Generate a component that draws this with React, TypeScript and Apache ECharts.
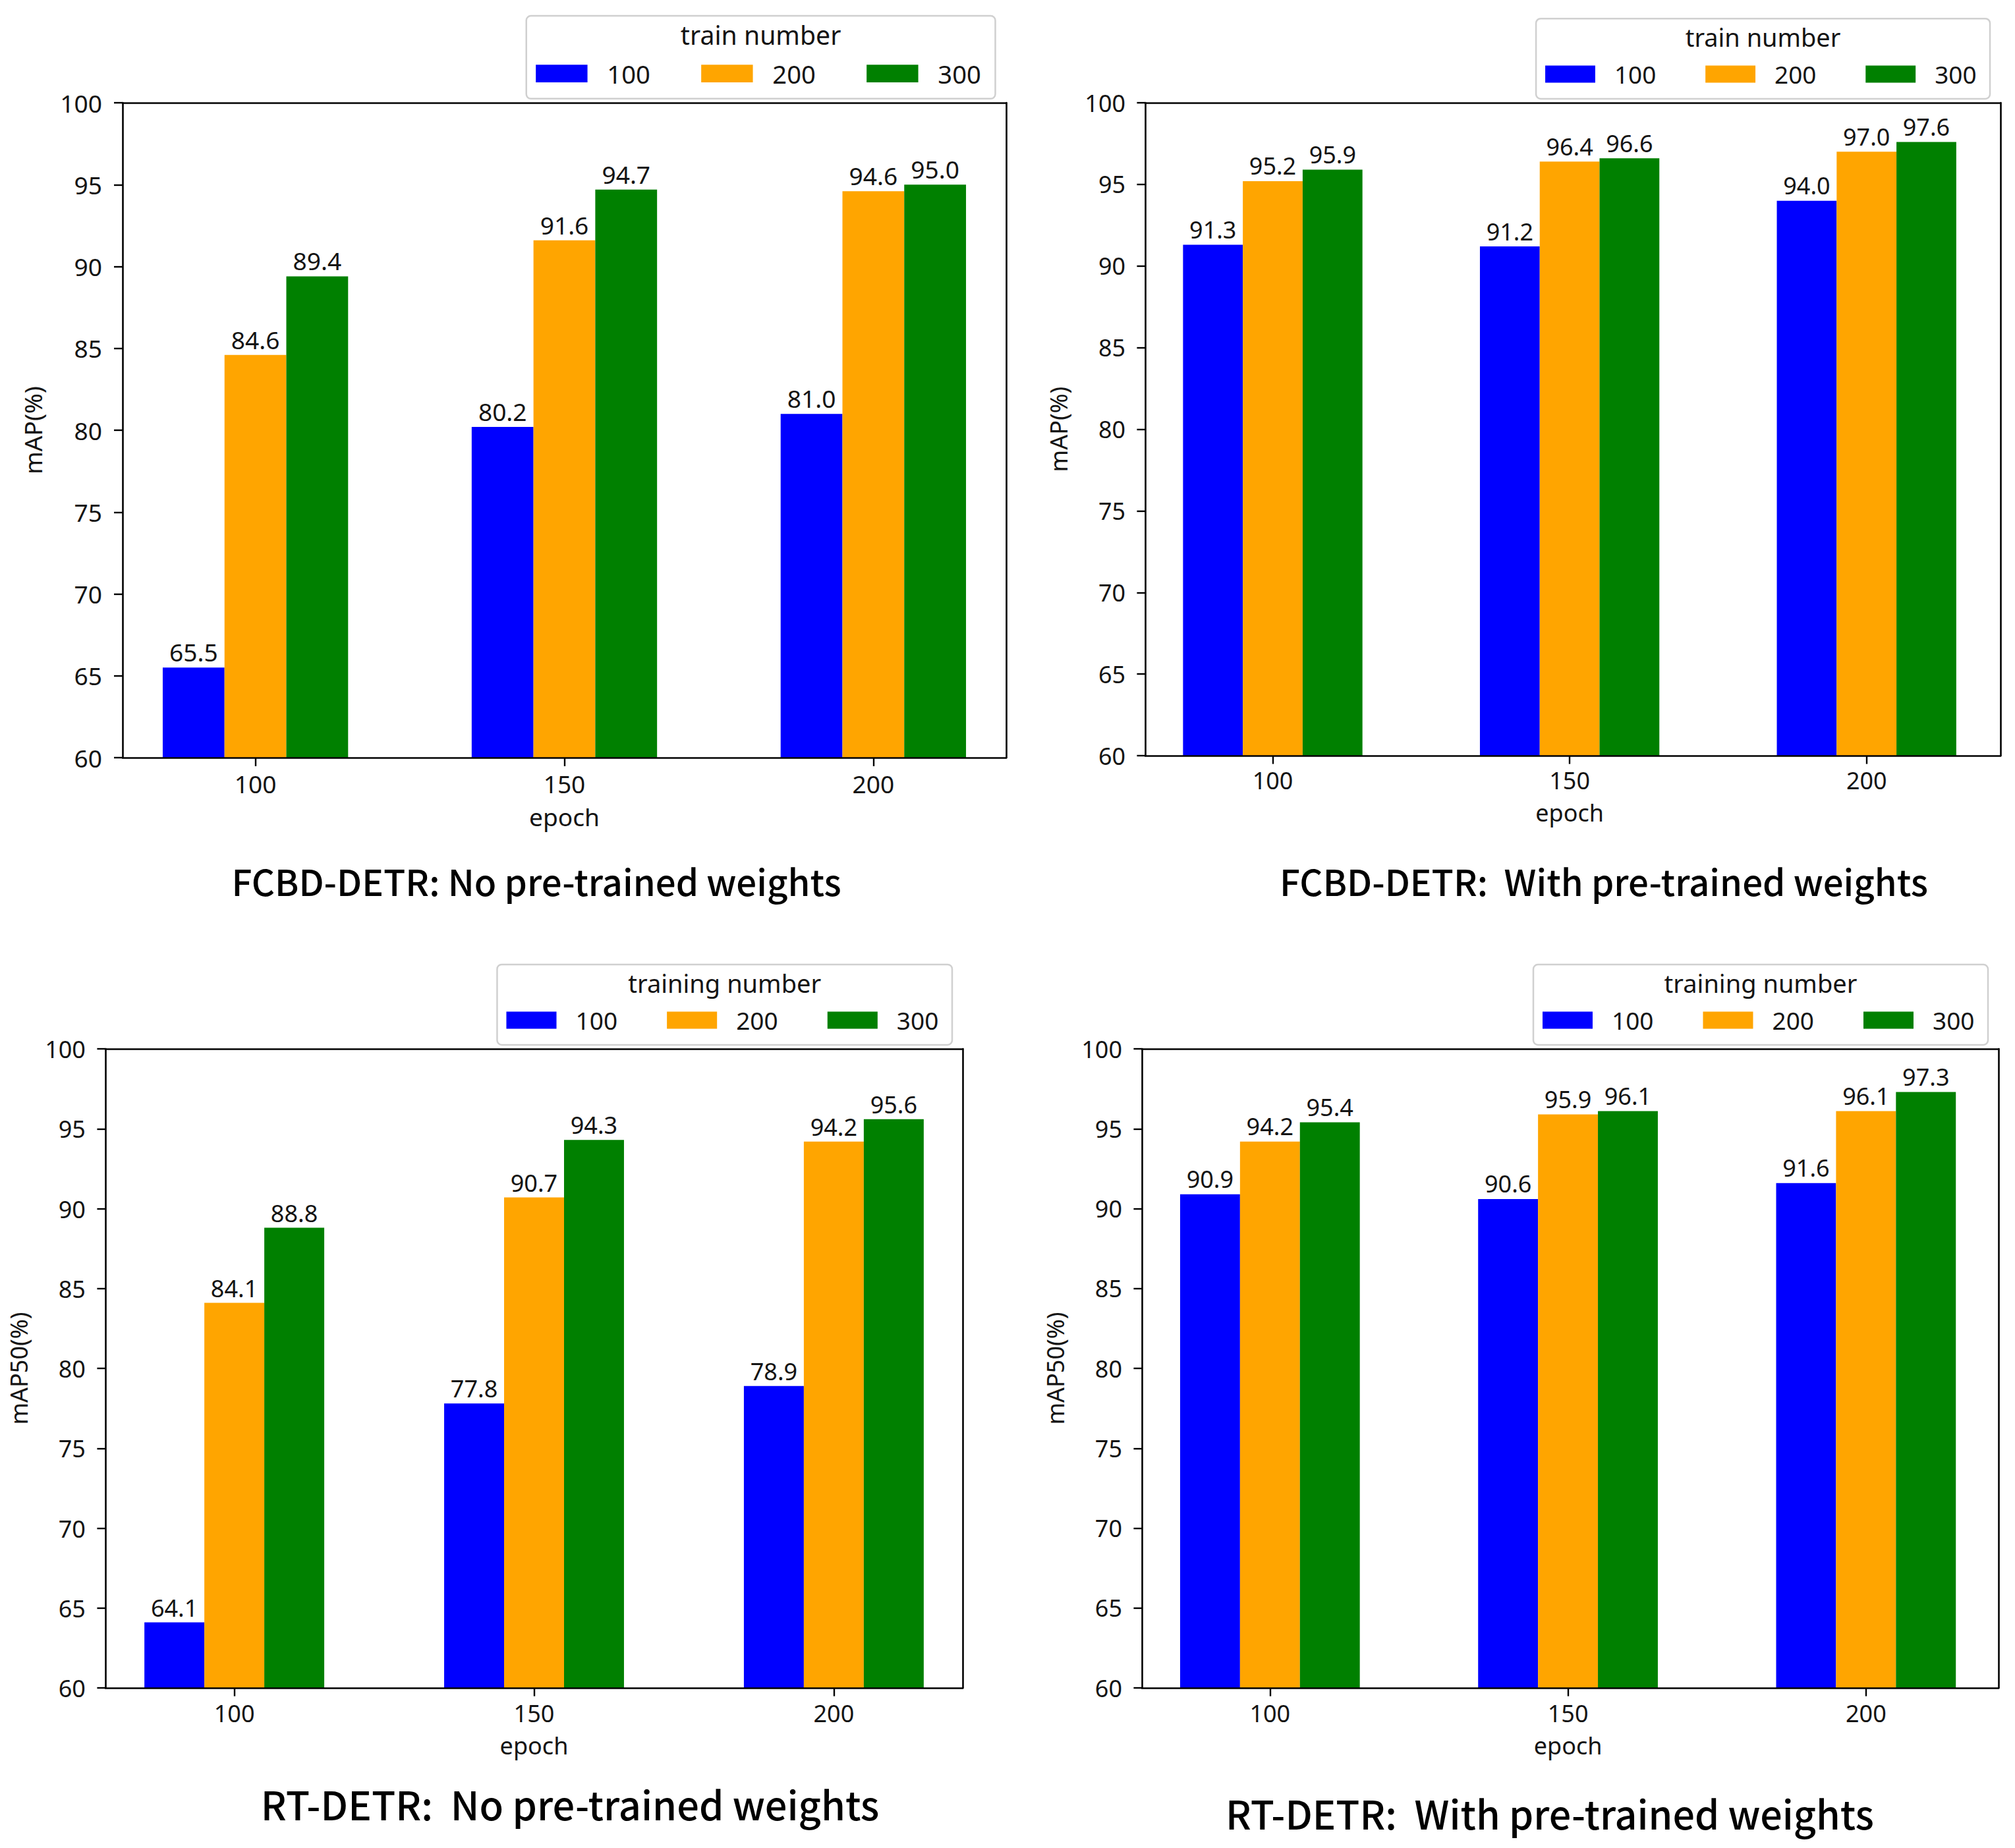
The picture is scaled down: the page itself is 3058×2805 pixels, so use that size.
import React, { useEffect, useRef } from 'react';
import * as echarts from 'echarts';

// ---------- data ----------
const epochs = ['100', '150', '200'];
const trainNumbers = ['100', '200', '300'];
const yMin = 60;
const yMax = 100;
const yInterval = 5;

// FCBD-DETR, no pre-trained weights (per train number, across epochs 100/150/200)
const fcbdNoPre100 = [65.5, 80.2, 81.0];
const fcbdNoPre200 = [84.6, 91.6, 94.6];
const fcbdNoPre300 = [89.4, 94.7, 95.0];

// FCBD-DETR, with pre-trained weights
const fcbdPre100 = [91.3, 91.2, 94.0];
const fcbdPre200 = [95.2, 96.4, 97.0];
const fcbdPre300 = [95.9, 96.6, 97.6];

// RT-DETR, no pre-trained weights
const rtNoPre100 = [64.1, 77.8, 78.9];
const rtNoPre200 = [84.1, 90.7, 94.2];
const rtNoPre300 = [88.8, 94.3, 95.6];

// RT-DETR, with pre-trained weights
const rtPre100 = [90.9, 90.6, 91.6];
const rtPre200 = [94.2, 95.9, 96.1];
const rtPre300 = [95.4, 96.1, 97.3];

// ---------- styles / layout ----------
const colors = ['#0000ff', '#ffa500', '#008000'];
const TXT = '#141414';
const FONT = '"Noto Sans", "DejaVu Sans", sans-serif';
const CAP_FONT = '"Noto Sans CJK SC", "Noto Sans", sans-serif';

const panels = [
  {
    data: [fcbdNoPre100, fcbdNoPre200, fcbdNoPre300],
    legendTitle: 'train number',
    yName: 'mAP(%)',
    caption: 'FCBD-DETR: No pre-trained weights',
    L: 186, R: 1527, T: 156, B: 1150, capX: 814, capY: 1336, capSize: 54.6,
  },
  {
    data: [fcbdPre100, fcbdPre200, fcbdPre300],
    legendTitle: 'train number',
    yName: 'mAP(%)',
    caption: 'FCBD-DETR:  With pre-trained weights',
    L: 1738, R: 3036, T: 156, B: 1147, capX: 2434, capY: 1336, capSize: 54.6,
  },
  {
    data: [rtNoPre100, rtNoPre200, rtNoPre300],
    legendTitle: 'training number',
    yName: 'mAP50(%)',
    caption: 'RT-DETR:  No pre-trained weights',
    L: 160, R: 1461, T: 1592, B: 2562, capX: 865, capY: 2737, capSize: 59.5,
  },
  {
    data: [rtPre100, rtPre200, rtPre300],
    legendTitle: 'training number',
    yName: 'mAP50(%)',
    caption: 'RT-DETR:  With pre-trained weights',
    L: 1733, R: 3033, T: 1592, B: 2562, capX: 2352, capY: 2751, capSize: 59.2,
  },
];

function buildOption() {
  const grid: any[] = [];
  const xAxis: any[] = [];
  const yAxis: any[] = [];
  const series: any[] = [];
  const legend: any[] = [];
  const graphic: any[] = [];

  panels.forEach((p, pi) => {
    const W = p.R - p.L;
    const u = W / 2.86;
    const s = W / 1300;
    const fs = 36 * s;
    const lineStyle = { color: '#000', width: 2.6 };
    const tickStyle = { color: '#000', width: 2.4 };

    // bars grid (category bands)
    grid.push({ left: p.L - 0.07 * u, top: p.T, width: 3 * u, height: p.B - p.T });
    // frame grid
    grid.push({ left: p.L, top: p.T, width: W, height: p.B - p.T });

    const gBars = 2 * pi;
    const gFrame = 2 * pi + 1;

    xAxis.push({
      gridIndex: gBars,
      type: 'category',
      data: epochs,
      axisLine: { show: false, onZero: false },
      axisTick: { show: true, alignWithLabel: true, length: 12.6 * s, lineStyle: tickStyle },
      axisLabel: { margin: 20 * s, fontSize: fs, color: TXT, fontFamily: FONT },
      splitLine: { show: false },
      name: 'epoch',
      nameLocation: 'middle',
      nameGap: 69 * s,
      nameTextStyle: { fontSize: fs, color: TXT, fontFamily: FONT },
    });
    xAxis.push({
      gridIndex: gFrame, type: 'value', min: 0, max: 1, position: 'bottom', z: 5,
      axisLine: { show: true, onZero: false, lineStyle },
      axisTick: { show: false }, axisLabel: { show: false }, splitLine: { show: false },
    });
    xAxis.push({
      gridIndex: gFrame, type: 'value', min: 0, max: 1, position: 'top', z: 5,
      axisLine: { show: true, onZero: false, lineStyle },
      axisTick: { show: false }, axisLabel: { show: false }, splitLine: { show: false },
    });

    yAxis.push({ gridIndex: gBars, type: 'value', min: yMin, max: yMax, show: false });
    yAxis.push({
      gridIndex: gFrame, type: 'value', min: yMin, max: yMax, interval: yInterval, position: 'left', z: 5,
      axisLine: { show: true, onZero: false, lineStyle },
      axisTick: { show: true, length: 12.6 * s, lineStyle: tickStyle },
      axisLabel: { margin: 30 * s, fontSize: fs, color: TXT, fontFamily: FONT },
      splitLine: { show: false },
      name: p.yName,
      nameLocation: 'middle',
      nameGap: 114 * s,
      nameTextStyle: { fontSize: fs, color: TXT, fontFamily: FONT },
    });
    yAxis.push({
      gridIndex: gFrame, type: 'value', min: yMin, max: yMax, position: 'right', z: 5,
      axisLine: { show: true, onZero: false, lineStyle },
      axisTick: { show: false }, axisLabel: { show: false }, splitLine: { show: false },
    });

    p.data.forEach((vals, k) => {
      series.push({
        type: 'bar',
        name: trainNumbers[k],
        xAxisIndex: 3 * pi,
        yAxisIndex: 3 * pi,
        data: vals,
        barWidth: 0.2 * u,
        barGap: '0%',
        itemStyle: { color: colors[k] },
        label: {
          show: true,
          position: 'top',
          distance: 5,
          fontSize: fs,
          color: TXT,
          fontFamily: FONT,
          formatter: (d: any) => Number(d.value).toFixed(1),
        },
      });
    });

    // legend box
    const boxW = 690 * s;
    const boxH = 122 * s;
    const boxL = p.R - 16 * s - boxW;
    const boxT = p.T - 128 * s;
    graphic.push({
      type: 'rect',
      z: 1,
      shape: { x: boxL, y: boxT, width: boxW, height: boxH, r: 7 },
      style: { fill: '#ffffff', stroke: '#d0d0d0', lineWidth: 2.5 },
    });
    graphic.push({
      type: 'text',
      z: 6,
      x: boxL + boxW / 2,
      y: p.T - 100 * s,
      style: {
        text: p.legendTitle,
        fontSize: 38 * s,
        fontFamily: FONT,
        fill: TXT,
        align: 'center',
        verticalAlign: 'middle',
      },
    });
    legend.push({
      data: trainNumbers,
      left: boxL + 14 * s,
      top: p.T - 44 * s - 18,
      orient: 'horizontal',
      icon: 'rect',
      itemWidth: 76 * s,
      itemHeight: 26 * s,
      itemGap: 75 * s,
      padding: 0,
      selectedMode: false,
      textStyle: { fontSize: 37 * s, color: TXT, fontFamily: FONT, padding: [0, 0, 0, 24 * s] },
    });

    // caption
    graphic.push({
      type: 'text',
      z: 6,
      x: p.capX,
      y: p.capY,
      style: {
        text: p.caption,
        fontSize: p.capSize,
        fontFamily: CAP_FONT,
        fontWeight: 500,
        fill: '#000',
        align: 'center',
        verticalAlign: 'middle',
      },
    });
  });

  return {
    animation: false,
    backgroundColor: '#ffffff',
    grid,
    xAxis,
    yAxis,
    series,
    legend,
    graphic,
  };
}

export default function App() {
  const ref = useRef<HTMLDivElement>(null);
  useEffect(() => {
    if (!ref.current) return;
    const chart = echarts.init(ref.current, null, { renderer: 'svg' });
    chart.setOption(buildOption() as any);
    return () => chart.dispose();
  }, []);
  return (
    <div
      ref={ref}
      style={{ position: 'absolute', left: 0, top: 0, width: 3058, height: 2805, background: '#fff' }}
    />
  );
}
